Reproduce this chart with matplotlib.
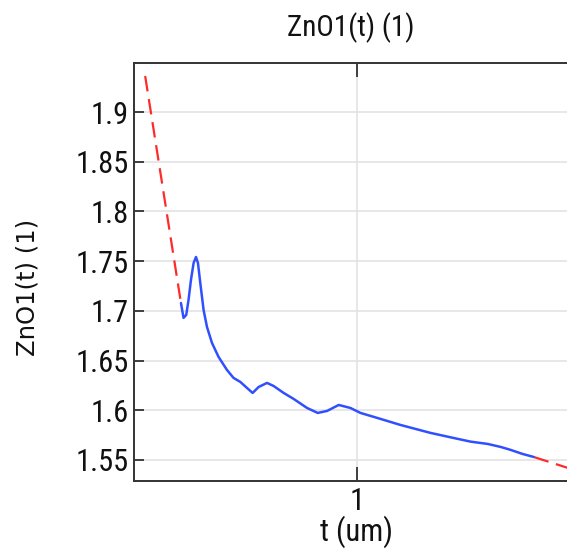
import matplotlib
matplotlib.use("Agg")
import matplotlib.pyplot as plt
from matplotlib.ticker import FixedLocator, NullLocator

# ---- data ----
t_data = [0.3388, 0.3442, 0.3499, 0.3549, 0.3602, 0.3661, 0.3715, 0.3760, 0.3814,
          0.3892, 0.3974, 0.4098, 0.4267, 0.4493, 0.4678, 0.4875, 0.5080, 0.5258,
          0.5455, 0.5743, 0.5980, 0.6360, 0.6761, 0.7340, 0.7837, 0.8301, 0.8914,
          0.9579, 1.0186, 1.1284, 1.302, 1.5652, 1.803, 2.002, 2.222, 2.406, 2.559,
          2.754, 2.947]
n_data = [1.7079, 1.6929, 1.6959, 1.7110, 1.7311, 1.7482, 1.7542, 1.7482, 1.7281,
          1.7009, 1.6838, 1.6677, 1.6536, 1.6405, 1.6325, 1.6285, 1.6224, 1.6174,
          1.6234, 1.6275, 1.6244, 1.6174, 1.6114, 1.6023, 1.5973, 1.5993, 1.6053,
          1.6023, 1.5973, 1.5923, 1.5852, 1.5772, 1.5721, 1.5684, 1.5661, 1.5631,
          1.5601, 1.5560, 1.5530]
t_extrap_left = [0.2720, 0.3388]
n_extrap_left = [1.9363, 1.7079]
t_extrap_right = [2.947, 3.631]
n_extrap_right = [1.5530, 1.5420]

y_ticks = [1.55, 1.6, 1.65, 1.7, 1.75, 1.8, 1.85, 1.9]
y_tick_labels = ["1.55", "1.6", "1.65", "1.7", "1.75", "1.8", "1.85", "1.9"]
x_ticks = [1.0]
x_tick_labels = ["1"]

title = "ZnO1(t) (1)"
xlabel = "t (um)"
ylabel = "ZnO1(t) (1)"

# ---- figure ----
W, H = 567, 550
fig = plt.figure(figsize=(W / 100, H / 100), dpi=100)
left_px, right_px, top_px, bottom_px = 134, 569, 63, 481
ax = fig.add_axes([left_px / W, 1 - bottom_px / H,
                   (right_px - left_px) / W, (bottom_px - top_px) / H])

narrow = ["Roboto Condensed", "DejaVu Sans"]

red = "#ff2a2a"
blue = "#3050ff"
ax.plot(t_extrap_left, n_extrap_left, color=red, lw=1.6, dashes=(7, 3.5), zorder=3)
ax.plot(t_extrap_right, n_extrap_right, color=red, lw=1.6, dashes=(7, 3.5), zorder=3)
ax.plot(t_data, n_data, color=blue, lw=1.8, zorder=4,
        solid_capstyle="round", solid_joinstyle="round")

ax.set_xscale("log")
ax.set_xlim(0.254, 3.66)
ax.set_ylim(1.5288, 1.9494)

ax.xaxis.set_major_locator(FixedLocator(x_ticks))
ax.xaxis.set_minor_locator(NullLocator())
ax.set_xticks(x_ticks)
ax.set_xticklabels(x_tick_labels)
ax.set_yticks(y_ticks)
ax.set_yticklabels(y_tick_labels)

ax.grid(True, color="#e3e3e3", lw=1.2, zorder=0)
ax.set_axisbelow(True)

for s in ["left", "bottom", "top"]:
    ax.spines[s].set_color("#333333")
    ax.spines[s].set_linewidth(1.4)
ax.spines["right"].set_visible(False)

ax.tick_params(axis="both", which="major", direction="in", length=7, width=1.3,
               color="#333333", top=True, right=False, pad=4)
ax.tick_params(axis="x", which="major", length=10)
for lab in ax.get_xticklabels() + ax.get_yticklabels():
    lab.set_family(narrow)
    lab.set_fontsize(22)
    lab.set_fontweight("normal")
    lab.set_color("#111111")

fig.text(351 / W, 1 - 28 / H, title, ha="center", va="center",
         family=narrow, fontweight="normal", fontsize=21, color="#111111")
fig.text(357 / W, 1 - 532 / H, xlabel, ha="center", va="center",
         family=narrow, fontweight="normal", fontsize=22, color="#111111")
fig.text(28 / W, 1 - 287 / H, ylabel, ha="center", va="center", rotation=90,
         family=["DejaVu Sans"], fontsize=17.5, color="#111111")

fig.savefig("out.png", dpi=100)
